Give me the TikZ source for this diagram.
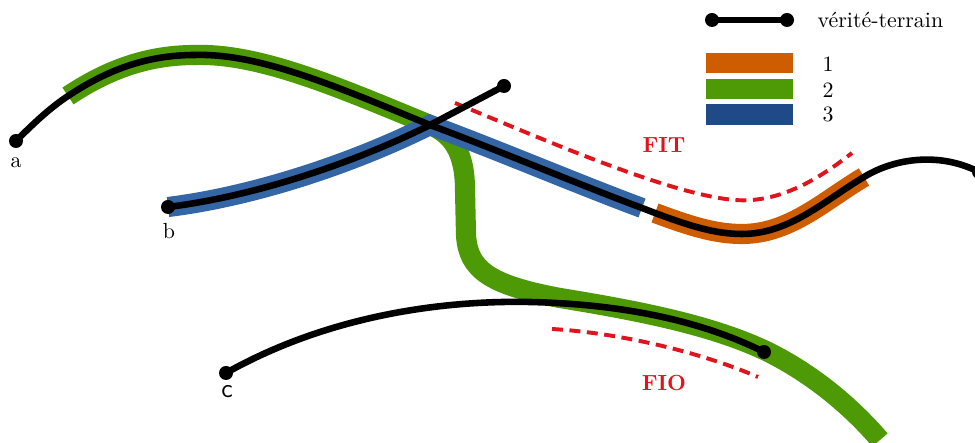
\documentclass[tikz,border=0pt]{standalone}
\usepackage{fontspec}
\definecolor{orng}{HTML}{CE5C00}
\definecolor{grn}{HTML}{4E9A06}
\definecolor{blu}{HTML}{3465A4}
\definecolor{bludark}{HTML}{204A87}
\definecolor{rd}{HTML}{E0141C}
\begin{document}
\begin{tikzpicture}[x=0.457pt,y=-0.457pt,
  gt/.style={line width=3pt, black},
  band/.style={line width=9.2pt, line cap=butt},
  dotnode/.style={circle, fill=black, inner sep=0pt, minimum size=6.4pt},
  fitline/.style={rd, line width=1.8pt, dash pattern=on 5pt off 3pt},
  redlbl/.style={rd, font=\bfseries},
  legrect/.style={minimum width=39.8pt, minimum height=9.2pt, inner sep=0pt}]
\useasboundingbox (0,0) rectangle (975,443);

% named points
\coordinate (a) at (16,141);
\coordinate (aend) at (979,172);
\coordinate (b) at (168,207);
\coordinate (bend) at (504,86);
\coordinate (c) at (226,373);
\coordinate (cend) at (764,352);

% band 2 (green)
\draw[band, grn] (68,96) .. controls (110,68) and (150,55) .. (195,55)
  .. controls (260,53) and (340,88) .. (430,125)
  .. controls (452,134) and (465,152) .. (465,190) -- (466,235)
  .. controls (468,270) and (490,285) .. (560,298)
  .. controls (640,311) and (710,325) .. (764,350)
  .. controls (810,372) and (850,405) .. (880,440);
% band 3 (blue)
\draw[band, blu] (b) .. controls (250,197) and (350,165) .. (430,125)
  .. controls (500,151) and (580,185) .. (642,208);
% band 1 (orange)
\draw[band, orng] (655,213) .. controls (690,226) and (715,234) .. (742,234)
  .. controls (790,234) and (825,200) .. (864,177);

% red dashed
\draw[fitline] (455,103) .. controls (540,138) and (670,195) .. (735,200)
  .. controls (780,203.5) and (820,178) .. (852,153);
\draw[fitline] (552,329) .. controls (620,333) and (700,352) .. (758,377);

% ground truth lines
\draw[gt] (a) .. controls (35,122) and (50,108) .. (68,96)
  .. controls (110,68) and (150,55) .. (195,55)
  .. controls (260,53) and (340,88) .. (430,125)
  .. controls (500,151) and (580,185) .. (642,208) -- (655,213)
  .. controls (690,226) and (715,234) .. (742,234)
  .. controls (790,234) and (825,200) .. (864,177)
  .. controls (895,158) and (940,152) .. (aend);
\draw[gt] (b) .. controls (250,197) and (350,165) .. (430,125) -- (bend);
\draw[gt] (c) .. controls (320,320) and (430,300) .. (530,302)
  .. controls (620,304) and (700,320) .. (cend);

\foreach \p in {a,aend,b,bend,c,cend} \node[dotnode] (dot\p) at (\p) {};

% labels
\node (la) at (16,163) {a};
\node (lb) at (169,231) {b};
\node[font=\sffamily\large] (lc) at (227,392) {c};
\node[redlbl] (fit) at (664,145) {FIT};
\node[redlbl] (fio) at (664,383) {FIO};

% legend
\coordinate (l1) at (712,20);
\coordinate (l2) at (787,20);
\draw[gt] (l1) -- (l2);
\node[dotnode] (dl1) at (l1) {};
\node[dotnode] (dl2) at (l2) {};
\node[anchor=base west] (lgt) at (810,28) {vérité-terrain};
\node[legrect, fill=orng] (r1) at (749.5,63) {};
\node[legrect, fill=grn] (r2) at (749.5,89) {};
\node[legrect, fill=bludark] (r3) at (749.5,114.5) {};
\node[anchor=base west] (t1) at (815,72) {1};
\node[anchor=base west] (t2) at (815,97.5) {2};
\node[anchor=base west] (t3) at (815,122) {3};
\end{tikzpicture}
\end{document}
